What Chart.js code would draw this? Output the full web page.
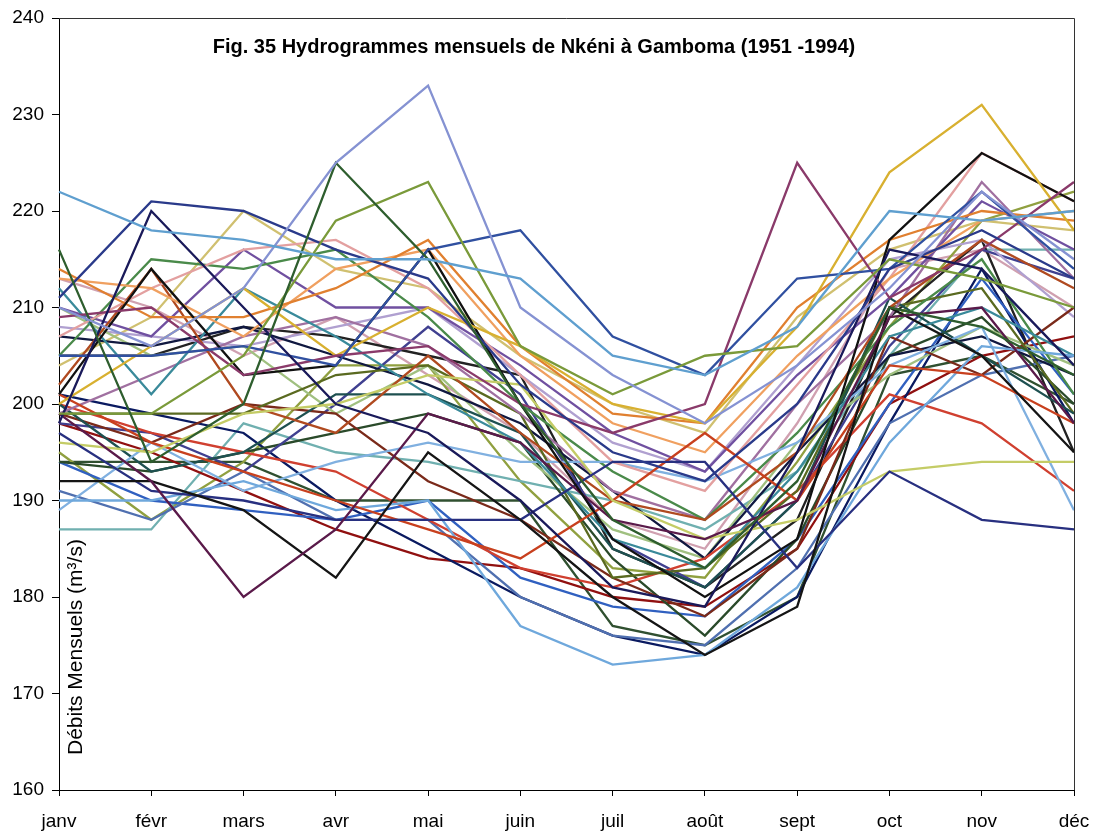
<!DOCTYPE html>
<html>
<head>
<meta charset="utf-8">
<title>Hydrogrammes mensuels de Nkéni à Gamboma</title>
<script src="https://cdn.jsdelivr.net/npm/chart.js@4/dist/chart.umd.min.js"></script>
<style>
  html, body { margin: 0; padding: 0; background: #ffffff; }
  #wrap { width: 1096px; height: 835px; }
</style>
</head>
<body>
<div id="wrap"><canvas id="chart" width="1096" height="835"></canvas></div>
<script>
// =====================
// DATA
// =====================
const months = ["janv", "févr", "mars", "avr", "mai", "juin", "juil", "août", "sept", "oct", "nov", "déc"];
const yTicks = [160, 170, 180, 190, 200, 210, 220, 230, 240];
const titleText = "Fig. 35 Hydrogrammes mensuels de Nkéni à Gamboma (1951 -1994)";
const yLabel = "Débits Mensuels (m³/s)";

const years = [];
for (let y = 1951; y <= 1994; y++) years.push(String(y));

// monthly flows, one row per year (m3/s)
const flows = [
  [222, 218, 217, 215, 215, 213, 205, 203, 208, 220, 219, 220],
  [210, 206, 212, 225, 233, 210, 203, 198, 204, 212, 222, 215],
  [216, 194, 200, 225, 215, 200, 188, 183, 192, 210, 208, 203],
  [199, 199, 205, 219, 223, 206, 201, 205, 206, 215, 213, 210],
  [211, 221, 220, 216, 213, 202, 195, 192, 200, 214, 218, 213],
  [198, 220, 210, 200, 197, 190, 181, 179, 195, 216, 214, 204],
  [205, 205, 206, 204, 216, 218, 207, 203, 213, 214, 222, 214],
  [209, 210, 203, 205, 206, 200, 197, 200, 225, 211, 216, 223],
  [200, 206, 212, 205, 210, 206, 200, 198, 208, 224, 231, 218],
  [201, 214, 203, 204, 216, 200, 186, 180, 186, 217, 226, 221],
  [199, 192, 180, 187, 199, 196, 188, 186, 190, 209, 210, 198],
  [192, 192, 189, 182, 195, 188, 180, 174, 179, 210, 205, 195],
  [197, 191, 190, 188, 188, 188, 194, 194, 183, 193, 188, 187],
  [196, 195, 199, 200, 203, 202, 190, 186, 188, 193, 194, 194],
  [201, 196, 193, 190, 187, 184, 190, 197, 190, 204, 203, 198],
  [190, 190, 192, 189, 190, 177, 173, 174, 181, 196, 206, 205],
  [214, 209, 209, 212, 217, 206, 199, 198, 210, 217, 220, 219],
  [213, 212, 207, 214, 216, 205, 198, 195, 205, 213, 219, 220],
  [207, 212, 216, 217, 212, 203, 194, 191, 202, 213, 226, 221],
  [202, 214, 200, 197, 205, 197, 190, 188, 195, 210, 217, 212],
  [212, 201, 212, 207, 201, 196, 186, 183, 193, 207, 210, 205],
  [189, 196, 191, 194, 196, 194, 194, 192, 196, 204, 208, 189],
  [205, 215, 214, 216, 209, 200, 193, 188, 197, 208, 215, 201],
  [210, 207, 216, 210, 210, 204, 197, 193, 203, 211, 221, 216],
  [199, 203, 207, 209, 206, 199, 191, 188, 200, 209, 223, 213],
  [200, 193, 195, 201, 201, 197, 185, 181, 190, 211, 205, 199],
  [199, 199, 199, 203, 204, 199, 182, 183, 191, 210, 212, 199],
  [199, 196, 200, 199, 192, 188, 182, 178, 185, 207, 203, 210],
  [200, 197, 195, 193, 188, 183, 181, 184, 191, 201, 198, 191],
  [207, 206, 208, 205, 202, 198, 191, 184, 195, 205, 207, 203],
  [210, 205, 206, 199, 204, 195, 187, 184, 196, 203, 208, 204],
  [208, 207, 206, 208, 210, 203, 196, 193, 204, 215, 217, 209],
  [204, 209, 220, 214, 212, 205, 200, 197, 209, 216, 219, 218],
  [198, 197, 193, 200, 208, 201, 186, 181, 190, 206, 216, 213],
  [194, 193, 195, 197, 199, 196, 184, 176, 186, 205, 209, 200],
  [191, 188, 193, 188, 188, 180, 176, 175, 183, 198, 203, 205],
  [194, 190, 189, 188, 190, 182, 179, 178, 186, 200, 213, 201],
  [201, 199, 197, 190, 185, 180, 176, 174, 180, 198, 214, 198],
  [205, 205, 208, 207, 205, 203, 185, 181, 188, 209, 217, 195],
  [198, 195, 191, 187, 184, 183, 180, 179, 185, 200, 205, 207],
  [187, 187, 198, 195, 194, 192, 190, 187, 193, 205, 216, 216],
  [195, 188, 194, 204, 204, 192, 183, 182, 194, 208, 219, 222],
  [213, 210, 205, 209, 203, 197, 188, 185, 198, 214, 216, 210],
  [194, 194, 194, 190, 190, 190, 177, 175, 180, 203, 205, 200]
];

// =====================
// STYLE
// =====================
const lineColors = [
  "#5f9fcf", "#8592d2", "#2e5e2e", "#7a9a3a", "#2a3a8a", "#1a1a5a", "#3050a0", "#8a3a6a",
  "#d8b030", "#111111", "#5a1a4a", "#151515", "#283080", "#c4cc66", "#c8401e", "#6fa8dc",
  "#e08030", "#f0a060", "#e3a0a0", "#b04a20", "#3a8a9a", "#80b0e0", "#4a8a4a", "#7050a0",
  "#a070a0", "#1e5050", "#5a6a20", "#7a2a1a", "#d04030", "#101840", "#a0c080", "#b0a0d0",
  "#d0c070", "#404090", "#2a4a2a", "#5070b0", "#3060c0", "#0a1a60", "#222222", "#901010",
  "#70b0b0", "#90a040", "#d0a0b0", "#305030"
];
const FONT = "Arial, 'Liberation Sans', sans-serif";

const datasets = flows.map((row, i) => ({
  label: years[i],
  data: row,
  borderColor: lineColors[i % lineColors.length],
  backgroundColor: lineColors[i % lineColors.length],
  borderWidth: 2.3,
  pointRadius: 0,
  tension: 0,
  fill: false
}));

// title, y label and frame drawn inside the plot area
const framePlugin = {
  id: "frame",
  afterDraw(chart) {
    const { ctx, chartArea: a } = chart;
    ctx.save();
    ctx.strokeStyle = "#333333";
    ctx.lineWidth = 1;
    ctx.beginPath();
    ctx.moveTo(a.left, a.top + 0.5);
    ctx.lineTo(a.right + 0.5, a.top + 0.5);
    ctx.lineTo(a.right + 0.5, a.bottom);
    ctx.stroke();

    ctx.fillStyle = "#000000";
    ctx.font = "bold 20px " + FONT;
    ctx.textAlign = "center";
    ctx.textBaseline = "alphabetic";
    ctx.fillText(titleText, 534, 53);

    ctx.translate(82, 755);
    ctx.rotate(-Math.PI / 2);
    ctx.font = "21px " + FONT;
    ctx.textAlign = "left";
    ctx.fillText(yLabel, 0, 0);
    ctx.restore();
  }
};

new Chart(document.getElementById("chart"), {
  type: "line",
  data: { labels: months, datasets },
  options: {
    responsive: false,
    animation: false,
    devicePixelRatio: 1,
    layout: { padding: { top: 18, right: 22, left: 0, bottom: 0 } },
    plugins: {
      legend: { display: false },
      title: { display: false },
      tooltip: { enabled: false }
    },
    scales: {
      x: {
        offset: false,
        afterFit: s => { s.height = 45; s.paddingLeft = 0; s.paddingRight = 0; },
        grid: { drawOnChartArea: false, drawTicks: true, tickLength: 6, color: "#000000" },
        border: { display: true, color: "#000000", width: 1 },
        ticks: { color: "#000000", font: { family: FONT, size: 19 }, padding: 14, maxRotation: 0, autoSkip: false }
      },
      y: {
        min: 160,
        max: 240,
        afterFit: s => { s.width = 59; s.paddingTop = 0; s.paddingBottom = 0; },
        afterBuildTicks: s => { s.ticks = yTicks.map(v => ({ value: v })); },
        grid: { drawOnChartArea: false, drawTicks: true, tickLength: 7, color: "#000000" },
        border: { display: true, color: "#000000", width: 1 },
        ticks: { color: "#000000", font: { family: FONT, size: 19 }, padding: 8 }
      }
    }
  },
  plugins: [framePlugin]
});
</script>
</body>
</html>
